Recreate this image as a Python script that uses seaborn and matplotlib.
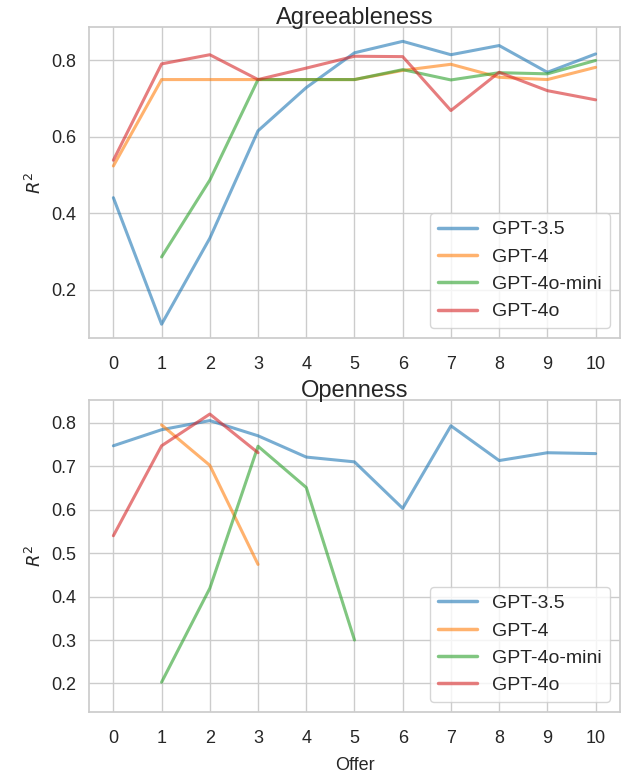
import numpy as np
import pandas as pd
import matplotlib
matplotlib.use("Agg")
import matplotlib.pyplot as plt
import seaborn as sns

models = ["GPT-3.5", "GPT-4", "GPT-4o-mini", "GPT-4o"]
offers = list(range(11))

# Agreeableness R^2 per offer (None = no value)
agree_gpt35 = [0.441, 0.110, 0.335, 0.616, 0.729, 0.820, 0.850, 0.815, 0.839, 0.769, 0.817]
agree_gpt4 = [0.524, 0.750, 0.750, 0.750, 0.750, 0.750, 0.774, 0.790, 0.756, 0.750, 0.782]
agree_mini = [None, 0.286, 0.487, 0.750, 0.750, 0.750, 0.776, 0.749, 0.768, 0.765, 0.800]
agree_gpt4o = [0.539, 0.791, 0.815, 0.750, 0.780, 0.811, 0.810, 0.669, 0.769, 0.721, 0.697]

# Openness R^2 per offer
open_gpt35 = [0.747, 0.784, 0.805, 0.770, 0.721, 0.710, 0.603, 0.793, 0.713, 0.731, 0.729]
open_gpt4 = [None, 0.795, 0.702, 0.474, None, None, None, None, None, None, None]
open_mini = [None, 0.203, 0.419, 0.746, 0.651, 0.300, None, None, None, None, None]
open_gpt4o = [0.540, 0.747, 0.820, 0.731, None, None, None, None, None, None, None]


def to_long(series):
    rows = []
    for name, vals in zip(models, series):
        for x, v in zip(offers, vals):
            if v is not None:
                rows.append({"Offer": x, "R2": v, "Model": name})
    return pd.DataFrame(rows)


agree_df = to_long([agree_gpt35, agree_gpt4, agree_mini, agree_gpt4o])
open_df = to_long([open_gpt35, open_gpt4, open_mini, open_gpt4o])

sns.set_theme(style="whitegrid")
plt.rcParams["font.family"] = ["Liberation Sans", "DejaVu Sans"]

palette = dict(zip(models, sns.color_palette("tab10", 4)))

fig = plt.figure(figsize=(6.33, 7.77), dpi=100)
ax1 = fig.add_axes([0.141, 0.565, 0.838, 0.400])
ax2 = fig.add_axes([0.141, 0.084, 0.838, 0.401])

for ax, df, title in [(ax1, agree_df, "Agreeableness"), (ax2, open_df, "Openness")]:
    sns.lineplot(data=df, x="Offer", y="R2", hue="Model", hue_order=models,
                 palette=palette, alpha=0.6, linewidth=2.2, ax=ax)
    ax.set_title(title, fontsize=17, pad=2)
    ax.set_ylabel("$R^2$", fontsize=13)
    ax.set_xticks(offers)
    ax.set_xlim(-0.5, 10.5)
    ax.tick_params(labelsize=13)
    ax.tick_params(axis="x", pad=7)
    leg = ax.legend(loc="lower right", fontsize=14, handlelength=2.0)
    for line in leg.get_lines():
        line.set_linewidth(2.5)

ax1.set_xlabel("")
ax2.set_xlabel("Offer", fontsize=13, labelpad=7)
ax1.set_ylim(0.074, 0.887)
ax1.set_yticks([0.2, 0.4, 0.6, 0.8])
ax2.set_ylim(0.135, 0.852)
ax2.set_yticks([0.2, 0.3, 0.4, 0.5, 0.6, 0.7, 0.8])

fig.savefig("out.png", dpi=100)
